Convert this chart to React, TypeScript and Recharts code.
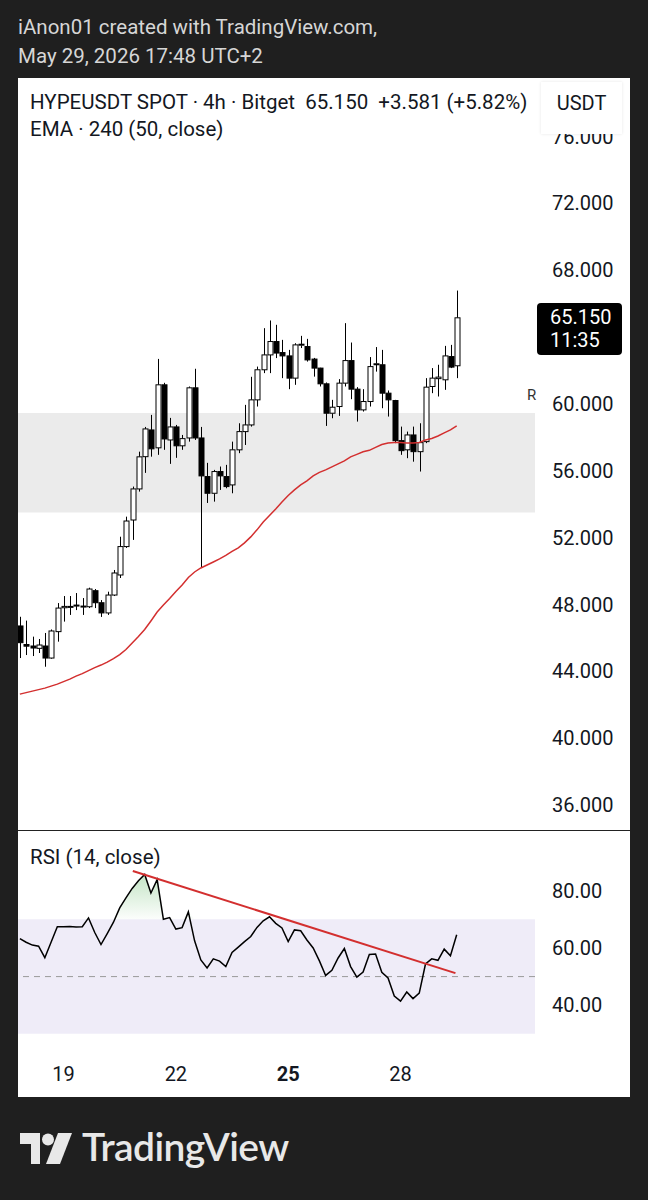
import React from 'react'
import {
  ComposedChart,
  Bar,
  Line,
  Area,
  XAxis,
  YAxis,
  ReferenceArea,
  ReferenceLine,
} from 'recharts'

// 4h bars, index 0 = May 19 00:00
const opens = [
  46.71, 45.6, 45.51, 45.37, 45.51, 44.79, 46.37, 47.8, 47.84, 47.9, 47.86, 47.86, 48.82, 48.1, 47.49, 48.56,
  49.76, 51.46, 53.05, 54.91, 56.84, 58.44, 57.37, 61.14, 57.84, 58.62, 57.49, 57.96, 60.96, 57.96, 55.65,
  54.65, 55.95, 55.65, 55.15, 57.25, 58.34, 58.74, 60.24, 62.04, 62.93, 63.73, 63.07, 62.87, 61.54, 63.53,
  63.43, 62.68, 62.14, 61.2, 59.44, 59.84, 61.24, 62.59, 60.88, 59.64, 60.14, 62.34, 62.34, 60.64, 60.2,
  57.8, 57.25, 58.14, 57.14, 57.74, 61.04, 61.51, 61.44, 62.83, 62.28,
]
const highs = [
  47.26, 47.03, 46.07, 45.93, 46.29, 46.5, 48.08, 48.5, 48.5, 48.68, 48.38, 49.0, 48.92, 48.26, 48.76, 50.06,
  52.05, 53.25, 55.05, 57.14, 58.62, 59.34, 62.69, 61.26, 59.16, 58.74, 58.14, 61.04, 62.1, 58.62, 56.47,
  56.05, 56.25, 56.35, 57.74, 58.84, 59.94, 61.62, 62.23, 64.53, 64.99, 64.73, 63.83, 63.23, 63.63, 64.07,
  63.89, 62.75, 62.16, 61.28, 60.24, 61.48, 64.83, 63.67, 61.0, 60.88, 62.8, 63.4, 63.23, 60.8, 60.24,
  58.64, 58.34, 58.64, 58.84, 61.54, 62.14, 62.34, 63.47, 63.53, 66.78,
]
const lows = [
  44.79, 44.97, 44.91, 45.09, 44.27, 44.75, 45.77, 46.97, 47.37, 47.66, 47.37, 47.78, 47.78, 47.25, 47.37, 48.5,
  49.58, 51.38, 51.86, 54.75, 55.87, 56.84, 56.95, 57.25, 56.41, 56.77, 57.25, 57.74, 57.84, 50.18, 54.07,
  54.15, 54.85, 54.95, 54.65, 57.05, 57.54, 58.64, 59.84, 61.84, 61.84, 62.74, 61.54, 60.88, 61.14, 63.34,
  62.53, 61.63, 61.04, 58.68, 59.14, 59.28, 61.04, 60.28, 58.94, 59.54, 59.84, 61.93, 59.74, 59.24, 57.65,
  56.95, 56.75, 56.54, 55.95, 57.65, 60.64, 60.44, 60.84, 62.14, 61.54,
]
const closes = [
  45.71, 45.5, 45.39, 45.57, 44.79, 46.41, 47.78, 47.88, 47.88, 47.96, 47.9, 48.92, 48.1, 47.49, 48.56, 49.88,
  51.46, 52.99, 54.91, 56.83, 58.5, 57.31, 61.14, 57.9, 58.62, 57.49, 57.92, 60.96, 57.96, 55.69, 54.65,
  55.95, 55.69, 55.05, 57.25, 58.34, 58.74, 60.24, 62.04, 62.93, 63.73, 63.04, 62.87, 61.54, 63.53, 63.57,
  62.63, 62.14, 61.2, 59.44, 59.8, 61.24, 62.59, 60.88, 59.64, 60.14, 62.23, 62.4, 60.64, 60.24, 57.8,
  57.2, 58.14, 57.14, 57.68, 61.0, 61.54, 61.6, 62.87, 62.2, 65.15,
]
const ema50 = [
  42.63, 42.72, 42.81, 42.9, 42.99, 43.11, 43.23, 43.38, 43.53, 43.71, 43.86, 44.04, 44.22, 44.37, 44.55, 44.76,
  45.0, 45.3, 45.69, 46.08, 46.5, 47.01, 47.54, 47.96, 48.35, 48.77, 49.16, 49.61, 49.94, 50.18, 50.36,
  50.54, 50.72, 50.93, 51.17, 51.38, 51.68, 52.04, 52.46, 52.93, 53.32, 53.71, 54.13, 54.52, 54.85, 55.15,
  55.39, 55.69, 55.9, 56.05, 56.23, 56.41, 56.59, 56.83, 56.98, 57.13, 57.22, 57.4, 57.57, 57.66, 57.69,
  57.69, 57.66, 57.66, 57.69, 57.84, 57.93, 58.08, 58.26, 58.44, 58.68,
]
const rsi14 = [
  63.3, 62.0, 61.0, 60.6, 56.6, 62.0, 67.4, 67.4, 67.5, 67.3, 67.4, 70.5, 65.4, 61.2, 65.0, 69.0,
  74.0, 77.5, 80.8, 83.5, 85.7, 79.2, 83.9, 70.0, 70.6, 66.6, 67.1, 72.6, 62.5, 55.8, 53.0,
  56.2, 55.4, 53.5, 58.4, 60.3, 62.2, 64.0, 67.2, 69.5, 70.9, 68.6, 67.0, 62.2, 66.3, 66.0,
  62.8, 60.0, 55.5, 50.4, 52.2, 56.5, 59.8, 53.5, 49.8, 51.6, 57.7, 57.9, 51.5, 49.5, 43.2,
  41.4, 44.6, 42.3, 44.2, 54.4, 56.2, 55.7, 59.6, 57.3, 64.6,
]
const firstIndex = -7

// 64.000 sits under the last-price label, as in the original
const priceTicks = [36, 40, 44, 48, 52, 56, 60, 68, 72, 76]
const rsiTicks = [40, 60, 80]
const dayTicks = [0, 18, 36, 54]
const dayLabels = ['19', '22', '25', '28']
const zone = [53.5, 59.45]
const rsiBand = [30, 70]
const trendLine = [
  { x: 11.1, y: 86.9 },
  { x: 62.8, y: 51.2 },
]

const X_DOMAIN = [-7.3, 75.55]
const FONT = 'Roboto, "Noto Sans", sans-serif'
const INK = '#131722'

const rows = opens.map((o, k) => ({
  i: k + firstIndex,
  open: o,
  high: highs[k],
  low: lows[k],
  close: closes[k],
  range: [lows[k], highs[k]],
  ema: ema50[k],
  rsi: rsi14[k],
  hot: Math.max(rsi14[k], rsiBand[1]),
}))

function Candle(props: any) {
  const { x, y, width, height, payload } = props
  if (!payload) return null
  const { open, high, low, close } = payload
  const unit = height / (high - low || 1)
  const top = y + (high - Math.max(open, close)) * unit
  const bot = y + (high - Math.min(open, close)) * unit
  const cx = Math.round(x + width / 2) + 0.5
  const up = close >= open
  const bh = Math.max(bot - top, 1)
  return (
    <g>
      <line x1={cx} x2={cx} y1={y} y2={top} stroke="#000" strokeWidth={1} />
      <line x1={cx} x2={cx} y1={top + bh} y2={y + height} stroke="#000" strokeWidth={1} />
      <rect
        x={cx - width / 2}
        y={top}
        width={width}
        height={bh}
        fill={up ? '#fff' : '#000'}
        stroke="#000"
        strokeWidth={1}
      />
    </g>
  )
}

function DayTick(props: any) {
  const { x, y, payload } = props
  const label = dayLabels[dayTicks.indexOf(payload.value)]
  return (
    <text
      x={x}
      y={y}
      dy={21}
      textAnchor="middle"
      fontFamily={FONT}
      fontSize={20}
      fontWeight={label === '25' ? 700 : 400}
      fill={INK}
    >
      {label}
    </text>
  )
}

export default function App() {
  return (
    <div
      style={{
        position: 'absolute',
        left: 0,
        top: 0,
        width: 648,
        height: 1200,
        background: '#1f1f1f',
        fontFamily: FONT,
        overflow: 'hidden',
      }}
    >
      <div style={{ position: 'absolute', left: 18, top: 13, color: '#d6d6d6', fontSize: 20.5, lineHeight: '29px' }}>
        iAnon01 created with TradingView.com,
        <br />
        May 29, 2026 17:48 UTC+2
      </div>

      <div style={{ position: 'absolute', left: 18, top: 78, width: 612, height: 1019, background: '#fff' }}>
        <ComposedChart width={612} height={752} data={rows} margin={{ top: 0, right: 0, bottom: 0, left: 0 }}>
          <XAxis dataKey="i" type="number" domain={X_DOMAIN} allowDataOverflow hide />
          <YAxis
            orientation="right"
            width={95}
            domain={[34.5, 79.5]}
            ticks={priceTicks}
            allowDataOverflow
            axisLine={false}
            tickLine={false}
            tickMargin={11}
            tickFormatter={(v: number) => v.toFixed(3)}
            tick={{ fill: INK, fontSize: 20, fontFamily: FONT }}
          />
          <ReferenceArea x1={X_DOMAIN[0]} x2={X_DOMAIN[1]} y1={zone[0]} y2={zone[1]} fill="#ebebeb" fillOpacity={1} stroke="none" />
          <Bar dataKey="range" barSize={5} shape={<Candle />} isAnimationActive={false} />
          <Line dataKey="ema" stroke="#d32f2f" strokeWidth={1.5} dot={false} isAnimationActive={false} />
        </ComposedChart>

        <div style={{ position: 'absolute', left: 12, top: 12, color: INK, fontSize: 20.5, whiteSpace: 'pre' }}>
          {'HYPEUSDT SPOT · 4h · Bitget  65.150  +3.581 (+5.82%)'}
        </div>
        <div style={{ position: 'absolute', left: 12, top: 39, color: INK, fontSize: 20.5 }}>EMA · 240 (50, close)</div>
        <div
          style={{
            position: 'absolute',
            left: 523,
            top: 4,
            width: 81,
            height: 52,
            background: '#fff',
            boxShadow: '0 0 3px rgba(0,0,0,0.10)',
            color: INK,
            fontSize: 20,
            textAlign: 'center',
            lineHeight: '42px',
          }}
        >
          USDT
        </div>
        <div style={{ position: 'absolute', left: 509, top: 308, color: '#333', fontSize: 15 }}>R</div>
        <div
          style={{
            position: 'absolute',
            left: 519,
            top: 225,
            width: 85,
            height: 52,
            background: '#000',
            borderRadius: 4,
            color: '#fff',
            fontSize: 20,
            lineHeight: '23px',
            paddingTop: 3,
            boxSizing: 'border-box',
            paddingLeft: 13,
          }}
        >
          65.150
          <br />
          11:35
        </div>

        <div style={{ position: 'absolute', left: 0, top: 752, width: 612, height: 1, background: '#222' }} />

        <div style={{ position: 'absolute', left: 0, top: 753 }}>
          <ComposedChart width={612} height={266} data={rows} margin={{ top: 0, right: 0, bottom: 0, left: 0 }}>
            <defs>
              <linearGradient id="hotFill" x1="0" y1="0" x2="0" y2="1">
                <stop offset="0%" stopColor="#4caf50" stopOpacity={0.55} />
                <stop offset="100%" stopColor="#4caf50" stopOpacity={0.03} />
              </linearGradient>
            </defs>
            <XAxis
              dataKey="i"
              type="number"
              domain={X_DOMAIN}
              allowDataOverflow
              ticks={dayTicks}
              height={45}
              axisLine={false}
              tickLine={false}
              tick={<DayTick />}
            />
            <YAxis
              orientation="right"
              width={95}
              domain={[23.65, 100.87]}
              ticks={rsiTicks}
              allowDataOverflow
              axisLine={false}
              tickLine={false}
              tickMargin={11}
              tickFormatter={(v: number) => v.toFixed(2)}
              tick={{ fill: INK, fontSize: 20, fontFamily: FONT }}
            />
            <ReferenceArea x1={X_DOMAIN[0]} x2={X_DOMAIN[1]} y1={rsiBand[0]} y2={rsiBand[1]} fill="#efecf8" fillOpacity={1} stroke="none" />
            <ReferenceLine y={50} stroke="#9b9b9b" strokeDasharray="6 5" strokeWidth={1} />
            <Area
              dataKey="hot"
              baseValue={rsiBand[1]}
              stroke="none"
              fill="url(#hotFill)"
              type="linear"
              isAnimationActive={false}
            />
            <Line dataKey="rsi" stroke="#000" strokeWidth={1.5} dot={false} type="linear" isAnimationActive={false} />
            <ReferenceLine segment={trendLine} stroke="#d32f2f" strokeWidth={2} />
          </ComposedChart>
          <div style={{ position: 'absolute', left: 12, top: 14, color: INK, fontSize: 20.5 }}>RSI (14, close)</div>
        </div>
      </div>

      <svg style={{ position: 'absolute', left: 20, top: 1133 }} width={52} height={32} viewBox="0 0 52 32">
        <path d="M0 0 H20 V31 H11 V11 H0 Z" fill="#e8e8e8" />
        <circle cx={28} cy={6.5} r={6} fill="#e8e8e8" />
        <path d="M38 0 H52 L40 31 H26 Z" fill="#e8e8e8" />
      </svg>
      <div
        style={{
          position: 'absolute',
          left: 82,
          top: 1123,
          color: '#e8e8e8',
          fontSize: 39,
          fontWeight: 600,
          fontFamily: 'Lato, Roboto, sans-serif',
          letterSpacing: -0.6,
        }}
      >
        TradingView
      </div>
    </div>
  )
}
